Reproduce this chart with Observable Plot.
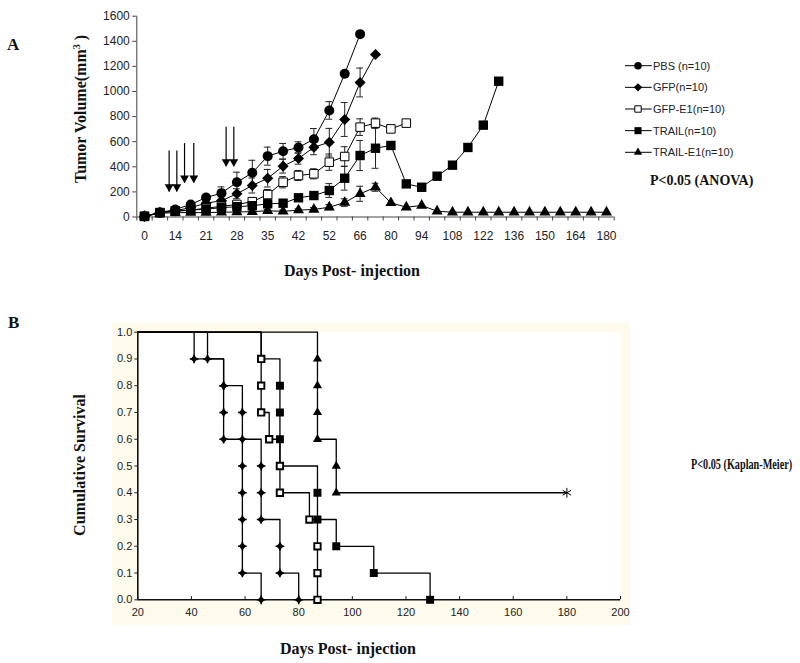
<!DOCTYPE html>
<html><head><meta charset="utf-8">
<script src="https://cdn.jsdelivr.net/npm/d3@7"></script>
<script src="https://cdn.jsdelivr.net/npm/@observablehq/plot@0.6"></script>
<style>
body{margin:0;background:#fff;}
#wrap{position:relative;width:800px;height:663px;overflow:hidden;background:#fff;font-family:"Liberation Sans",Arial,sans-serif;}
.abs{position:absolute;white-space:nowrap;}
.serif{font-family:"Liberation Serif","Times New Roman",serif;font-weight:bold;color:#111;}
svg{overflow:visible;}
</style></head><body><div id="wrap"></div>
<script>
// ---------- Panel A data (tumor volume, categorical day axis) ----------
const daysA = [0,7,14,17,21,24,28,31,35,38,42,45,52,59,66,73,80,87,94,101,108,115,122,129,136,143,150,157,164,171,180];
const yTicksA = [0,200,400,600,800,1000,1200,1400,1600];
const groups = ["PBS (n=10)","GFP(n=10)","GFP-E1(n=10)","TRAIL(n=10)","TRAIL-E1(n=10)"];
const pbs    = [5,35,60,100,155,190,277,352,485,524,554,620,849,1141,1457];
const gfp    = [5,35,50,75,110,130,185,251,309,405,466,556,596,777,1072,1295];
const gfpE1  = [5,35,45,55,70,85,100,122,179,277,331,344,437,482,716,748,702,748];
const trail  = [5,35,50,55,62,75,82,90,105,110,153,171,211,309,490,548,570,264,237,325,413,554,732,1082];
const trailE1= [5,30,35,35,35,38,40,42,50,45,55,60,78,115,185,237,113,78,92,46,38,38,38,38,38,38,38,38,38,38,38];
const pbsErr    = [0,0,8,12,20,50,80,100,72,62,45,85,70,0,0];
const gfpErr    = [0,0,5,10,15,30,40,60,70,55,45,60,110,135,115,0];
const gfpE1Err  = [0,0,5,5,10,15,20,30,40,45,40,40,65,78,66,40,0,0];
const trailErr  = [0,0,5,5,5,10,10,15,20,20,25,30,55,95,120,160,0,0,0,0,0,0,0,0];
const trailE1Err= [0,0,5,5,5,5,5,5,10,10,10,15,20,30,60,32,0,0,0,0,0,0,0,0,0,0,0,0,0,0,0];
// injection arrows (category position, value at tail, value at tip)
const arrowAt  = [1.6,2.1,2.6,3.2,5.3,5.8];
const arrowTop = [525,525,585,585,715,715];
const arrowTip = [200,200,270,270,400,400];

// ---------- Panel B data (Kaplan-Meier) ----------
const xTicksB = [20,40,60,80,100,120,140,160,180,200];
const yTicksB = [0,0.1,0.2,0.3,0.4,0.5,0.6,0.7,0.8,0.9,1.0];
const deathsPBS    = [46,52,59,59,59,59,59,59,59,66];
const deathsGFP    = [41,52,52,52,66,66,66,73,73,80];
const deathsGFPE1  = [66,66,66,69,73,73,84,87,87,87];
const deathsTRAIL  = [66,73,73,73,73,87,87,94,108,129];
const deathsTRAILE1= [87,87,87,87,94,94];
const censorTRAILE1= [180,180,180,180];

// ---------- build tables ----------
const seriesA = [pbs,gfp,gfpE1,trail,trailE1];
const errsA = [pbsErr,gfpErr,gfpE1Err,trailErr,trailE1Err];
const rowsA = [];
seriesA.forEach((s,g)=>s.forEach((v,i)=>rowsA.push({g, i, v, e: errsA[g][i]})));
const errRows = rowsA.filter(d=>d.e>0);
const arrows = arrowAt.map((x,k)=>({x, y1:arrowTop[k], y2:arrowTip[k]}));

const symA = [
  {symbol:"circle", r:5, fill:"black", stroke:"none"},
  {symbol:"diamond2", r:5, fill:"black", stroke:"none"},
  {symbol:"square", r:4.8, fill:"white", stroke:"black", strokeWidth:1},
  {symbol:"square", r:5.3, fill:"black", stroke:"none"},
  {symbol:"triangle", r:4.1, fill:"black", stroke:"none"}
];

const wrap = document.getElementById("wrap");
const capW = 0.22;

const plotA = Plot.plot({
  width:800, height:280,
  marginLeft:136.3, marginRight:186.3, marginTop:15.7, marginBottom:63.5,
  x:{domain:[-0.5,30.5]}, y:{domain:[0,1600]},
  style:{background:"transparent", fontFamily:"'Liberation Sans', Arial, sans-serif", fontSize:"12px", color:"#222"},
  marks:[
    Plot.ruleX([-0.5],{stroke:"#444", strokeWidth:1}),
    Plot.ruleY([0],{stroke:"#444", strokeWidth:1}),
    Plot.axisY({ticks:yTicksA, tickSize:4, tickPadding:3, tickFormat:d=>String(d), fontSize:12, label:null, stroke:"#444"}),
    Plot.axisX({ticks:d3.range(0.5,30,1).concat([-0.5,30.5]), tickSize:4, tickFormat:()=>"", label:null, stroke:"#444"}),
    Plot.axisX({ticks:d3.range(0,31,2), tickSize:0, tickPadding:14, tickFormat:i=>String(daysA[i]), fontSize:12, label:null}),
    Plot.line(rowsA,{x:"i", y:"v", z:"g", stroke:"black", strokeWidth:1}),
    Plot.ruleX(errRows,{x:"i", y1:d=>d.v-d.e, y2:d=>d.v+d.e, stroke:"#222", strokeWidth:1}),
    Plot.ruleY(errRows,{y:d=>d.v+d.e, x1:d=>d.i-capW, x2:d=>d.i+capW, stroke:"#222", strokeWidth:1}),
    Plot.ruleY(errRows,{y:d=>d.v-d.e, x1:d=>d.i-capW, x2:d=>d.i+capW, stroke:"#222", strokeWidth:1}),
    ...symA.map((s,g)=>Plot.dot(rowsA.filter(d=>d.g===g),{x:"i", y:"v", ...s})),
    Plot.ruleX(arrows,{x:"x", y1:"y1", y2:"y2", stroke:"black", strokeWidth:1.2}),
    Plot.dot(arrows,{x:"x", y:"y2", symbol:"triangle", r:3.3, rotate:180, dy:-5.1, fill:"black", stroke:"none"})
  ]
});
plotA.style.position="absolute"; plotA.style.left="0px"; plotA.style.top="0px";

// ---------- Kaplan-Meier ----------
function km(name, deaths, censored=[]) {
  const n = deaths.length + censored.length;
  const sorted = [...deaths].sort((a,b)=>a-b);
  const marks = sorted.map((d,k)=>({g:name, day:d, s:(n-k-1)/n}));
  const steps = [{g:name, day:xTicksB[0], s:1}, ...marks.map(m=>({...m}))];
  if (censored.length) steps.push({g:name, day:d3.max(censored), s:marks[marks.length-1].s});
  const cens = censored.length ? [{g:name, day:d3.max(censored), s:marks[marks.length-1].s}] : [];
  return {marks, steps, cens};
}
const kPBS = km("PBS", deathsPBS), kGFP = km("GFP", deathsGFP), kGE = km("GFP-E1", deathsGFPE1),
      kTR = km("TRAIL", deathsTRAIL), kTE = km("TRAIL-E1", deathsTRAILE1, censorTRAILE1);
const stepsAll = [kPBS,kGFP,kGE,kTR,kTE].flatMap(k=>k.steps);

const bg = document.createElement("div");
bg.className="abs";
Object.assign(bg.style,{left:"112px", top:"322px", width:"518px", height:"303px", background:"#FEFAEC"});
wrap.appendChild(bg);

const plotB = Plot.plot({
  width:800, height:363,
  marginLeft:137.3, marginRight:180, marginTop:31.7, marginBottom:63.7,
  x:{domain:[20,200]}, y:{domain:[0,1]},
  style:{background:"transparent", fontFamily:"'Liberation Sans', Arial, sans-serif", fontSize:"11px", color:"#222"},
  marks:[
    Plot.frame({fill:"white", stroke:"none"}),
    Plot.axisY({ticks:yTicksB, tickFormat:d3.format(".1f"), tickSize:3, tickPadding:2.5, fontSize:11, label:null}),
    Plot.axisX({ticks:xTicksB, tickSize:0, tickPadding:8, fontSize:11, label:null}),
    Plot.ruleX(xTicksB,{y1:0, y2:0.012, stroke:"#222"}),
    Plot.line(stepsAll,{x:"day", y:"s", z:"g", curve:"step-after", stroke:"black", strokeWidth:1.3}),
    Plot.ruleX([20],{stroke:"#111", strokeWidth:1.6}),
    Plot.ruleY([0],{stroke:"#111", strokeWidth:1.6}),
    Plot.dot(kPBS.marks.concat(kGFP.marks),{x:"day", y:"s", symbol:"diamond2", r:3.3, fill:"black", stroke:"none"}),
    Plot.dot(kPBS.marks.concat(kGFP.marks),{x:"day", y:"s", symbol:"plus", r:2.9, stroke:"black", strokeWidth:1.6}),
    Plot.dot(kTR.marks,{x:"day", y:"s", symbol:"square", r:4.5, fill:"black", stroke:"none"}),
    Plot.dot(kGE.marks,{x:"day", y:"s", symbol:"square", r:3.6, fill:"white", stroke:"black", strokeWidth:1.9}),
    Plot.dot(kTE.marks,{x:"day", y:"s", symbol:"triangle", r:3.4, fill:"black", stroke:"none"}),
    Plot.dot(kTE.cens,{x:"day", y:"s", symbol:"asterisk", r:4.6, stroke:"black", strokeWidth:1})
  ]
});
plotB.style.position="absolute"; plotB.style.left="0px"; plotB.style.top="300px";

wrap.appendChild(plotA);
wrap.appendChild(plotB);

// ---------- legend (panel A) ----------
const leg = d3.select(wrap).append("svg").attr("class","abs")
  .style("left","620px").style("top","54px").attr("width",180).attr("height",110);
const d3sym = {circle:d3.symbolCircle, diamond2:d3.symbolDiamond2, square:d3.symbolSquare, triangle:d3.symbolTriangle};
groups.forEach((name,k)=>{
  const cy = 11.7 + k*21.65;
  leg.append("line").attr("x1",5).attr("x2",31.7).attr("y1",cy).attr("y2",cy).attr("stroke","black");
  const s = symA[k], r = s.r*0.75;
  leg.append("path").attr("transform",`translate(18,${cy})`)
    .attr("d", d3.symbol(d3sym[s.symbol], Math.PI*r*r)())
    .attr("fill", s.fill).attr("stroke", s.stroke==="none"?null:s.stroke).attr("stroke-width",1);
  leg.append("text").attr("x",33).attr("y",cy).attr("dy","0.36em")
    .attr("font-family","'Liberation Sans', Arial, sans-serif").attr("font-size",11).attr("fill","#222").text(name);
});

// ---------- text ----------
function addText(html, css, cls="abs serif") {
  const d = document.createElement("div");
  d.className = cls; d.innerHTML = html;
  Object.assign(d.style, css);
  wrap.appendChild(d);
  return d;
}
addText("A",{left:"7px", top:"36px", fontSize:"17px", lineHeight:"17px"});
addText("B",{left:"8px", top:"314px", fontSize:"17px", lineHeight:"17px"});
addText("Tumor Volume(mm<sup style='font-size:10px;vertical-align:6px'>3</sup> )",
  {left:"79px", top:"109px", fontSize:"16px", lineHeight:"16px", transform:"translate(-50%,-50%) rotate(-90deg)"});
addText("Days Post- injection",{left:"352px", top:"271px", fontSize:"16px", lineHeight:"16px", transform:"translate(-50%,-50%)"});
addText("P&lt;0.05 (ANOVA)",{left:"650px", top:"174px", fontSize:"14px", lineHeight:"14px"});
addText("Cumulative Survival",
  {left:"80px", top:"465px", fontSize:"16px", lineHeight:"16px", transform:"translate(-50%,-50%) rotate(-90deg)"});
addText("Days Post- injection",{left:"348px", top:"649px", fontSize:"16px", lineHeight:"16px", transform:"translate(-50%,-50%)"});
addText("P&lt;0.05 (Kaplan-Meier)",{left:"691px", top:"458px", fontSize:"14px", lineHeight:"14px", transform:"scaleX(0.73)", transformOrigin:"0 50%"});
</script></body></html>
